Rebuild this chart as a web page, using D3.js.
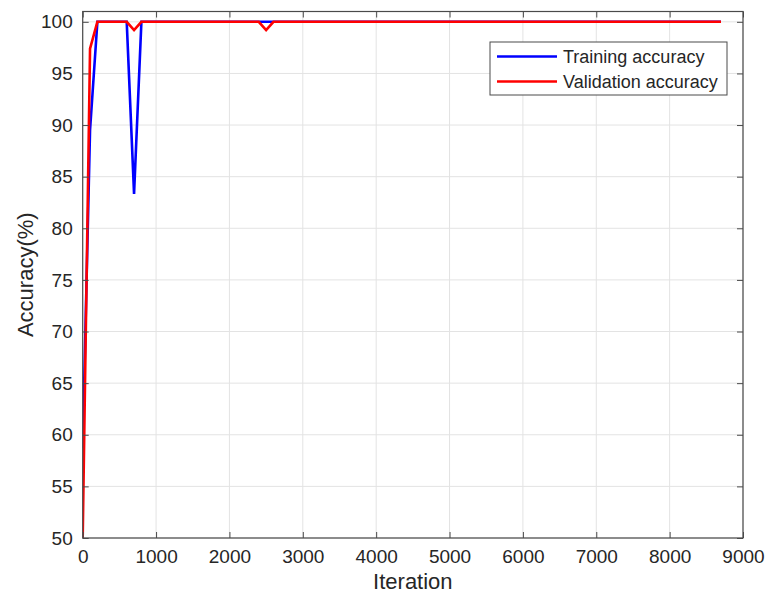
<!DOCTYPE html>
<html>
<head>
<meta charset="utf-8">
<script src="https://cdn.jsdelivr.net/npm/d3@7"></script>
<style>
  html, body { margin: 0; padding: 0; background: #fff; }
  svg { display: block; font-family: "Liberation Sans", Arial, sans-serif; }
</style>
</head>
<body>
<svg id="chart" width="768" height="596"></svg>
<script>
// Accuracy recorded at each evaluation point (iteration) of the training run
const iterations        = [0, 100, 200, 600, 700, 800, 2400, 2500, 2600, 8700];
const trainingAccuracy   = [58.7, 89.5, 100, 100, 83.33, 100, 100, 100, 100, 100];
const validationAccuracy = [50, 97.4, 100, 100, 99.2, 100, 100, 99.2, 100, 100];

const xTicks = [0, 1000, 2000, 3000, 4000, 5000, 6000, 7000, 8000, 9000];
const yTicks = [50, 55, 60, 65, 70, 75, 80, 85, 90, 95, 100];

const seriesNames  = ["Training accuracy", "Validation accuracy"];
const seriesColors = ["#0000ff", "#ff0000"];

const svg = d3.select("#chart");
const plot = { left: 82.7, right: 743, top: 11.5, bottom: 538 };

const x = d3.scaleLinear().domain([0, 9000]).range([plot.left, plot.right]);
const y = d3.scaleLinear().domain([50, 101]).range([plot.bottom, plot.top]);

const axisColor = "#4a4a4a";
const textColor = "#262626";
const plain = d3.format("d");

// grid
const grid = svg.append("g");
grid.selectAll("line.gx").data(xTicks).join("line")
  .attr("x1", d => x(d)).attr("x2", d => x(d))
  .attr("y1", plot.top).attr("y2", plot.bottom)
  .attr("stroke", "#e3e3e3").attr("stroke-width", 1);
grid.selectAll("line.gy").data(yTicks).join("line")
  .attr("x1", plot.left).attr("x2", plot.right)
  .attr("y1", d => y(d)).attr("y2", d => y(d))
  .attr("stroke", "#e3e3e3").attr("stroke-width", 1);

// data lines
svg.append("defs").append("clipPath").attr("id", "plotClip")
  .append("rect")
  .attr("x", plot.left).attr("y", plot.top)
  .attr("width", plot.right - plot.left).attr("height", plot.bottom - plot.top);

const series = [trainingAccuracy, validationAccuracy];
const line = d3.line().x((d, i) => x(iterations[i])).y(d => y(d));
svg.append("g").attr("clip-path", "url(#plotClip)")
  .selectAll("path").data(series).join("path")
  .attr("d", d => line(d))
  .attr("fill", "none")
  .attr("stroke", (d, i) => seriesColors[i])
  .attr("stroke-width", 2.6)
  .attr("stroke-linejoin", "miter");

// axes: ticks point inward on all four sides
const tickLen = 6;
const fontSize = 19;

const bottomAxis = svg.append("g").attr("transform", `translate(0,${plot.bottom})`)
  .call(d3.axisBottom(x).tickValues(xTicks).tickFormat(plain).tickSizeInner(-tickLen).tickSizeOuter(0).tickPadding(12));
const topAxis = svg.append("g").attr("transform", `translate(0,${plot.top})`)
  .call(d3.axisTop(x).tickValues(xTicks).tickSizeInner(-tickLen).tickSizeOuter(0).tickFormat(""));
const leftAxis = svg.append("g").attr("transform", `translate(${plot.left},0)`)
  .call(d3.axisLeft(y).tickValues(yTicks).tickFormat(plain).tickSizeInner(-tickLen).tickSizeOuter(0).tickPadding(10));
const rightAxis = svg.append("g").attr("transform", `translate(${plot.right},0)`)
  .call(d3.axisRight(y).tickValues(yTicks).tickSizeInner(-tickLen).tickSizeOuter(0).tickFormat(""));

[bottomAxis, topAxis, leftAxis, rightAxis].forEach(g => {
  g.select(".domain").remove();
  g.selectAll(".tick line").attr("stroke", axisColor).attr("stroke-width", 1);
  g.selectAll(".tick text")
    .attr("fill", textColor)
    .style("font-size", fontSize + "px")
    .style("font-family", "'Liberation Sans', Arial, sans-serif");
});

// frame
svg.append("rect")
  .attr("x", plot.left).attr("y", plot.top)
  .attr("width", plot.right - plot.left).attr("height", plot.bottom - plot.top)
  .attr("fill", "none").attr("stroke", axisColor).attr("stroke-width", 1.2);

// axis titles
svg.append("text")
  .attr("x", (plot.left + plot.right) / 2).attr("y", 589)
  .attr("text-anchor", "middle")
  .attr("fill", textColor)
  .style("font-size", "22px")
  .text("Iteration");

svg.append("text")
  .attr("transform", `translate(33,${(plot.top + plot.bottom) / 2}) rotate(-90)`)
  .attr("text-anchor", "middle")
  .attr("fill", textColor)
  .style("font-size", "22px")
  .text("Accuracy(%)");

// legend
const legend = svg.append("g").attr("transform", "translate(490,42)");
legend.append("rect")
  .attr("width", 237).attr("height", 53)
  .attr("fill", "#fff").attr("stroke", axisColor).attr("stroke-width", 1);
const items = legend.selectAll("g.item").data(seriesNames).join("g")
  .attr("transform", (d, i) => `translate(0,${14.5 + i * 25})`);
items.append("line")
  .attr("x1", 7).attr("x2", 67).attr("y1", 0).attr("y2", 0)
  .attr("stroke", (d, i) => seriesColors[i]).attr("stroke-width", 2.6);
items.append("text")
  .attr("x", 73).attr("y", 0).attr("dy", "0.35em")
  .attr("fill", textColor)
  .style("font-size", "18px")
  .text(d => d);
</script>
</body>
</html>
